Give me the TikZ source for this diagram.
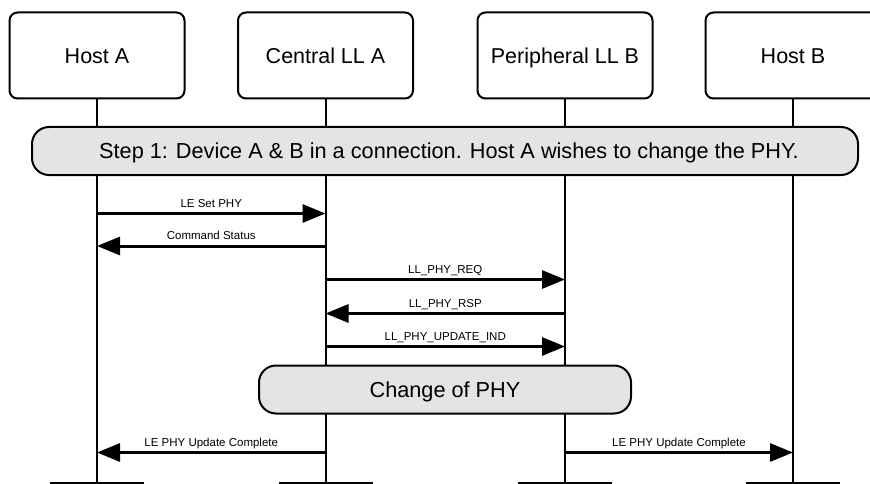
\documentclass[tikz,border=0pt]{standalone}
\usepackage{fontspec}
\setmainfont{Liberation Sans}
\usetikzlibrary{arrows.meta}
\definecolor{bandgray}{HTML}{E4E4E4}
\begin{document}
\begin{tikzpicture}[x=1pt,y=-1pt,
  actor/.style={draw, line width=2pt, rounded corners=8pt, fill=white,
    minimum width=175pt, minimum height=86pt, inner sep=0pt,
    text height=15.5pt, text depth=0pt,
    font=\fontsize{21.5}{24}\selectfont},
  actorend/.style={draw, line width=2pt, fill=white, anchor=north,
    minimum width=92pt, minimum height=60pt, inner sep=0pt},
  lifeline/.style={line width=2pt},
  band/.style={draw, line width=2pt, rounded corners=17pt, fill=bandgray,
    minimum height=48pt, inner sep=0pt, text height=15.6pt, text depth=0pt,
    font=\fontsize{21.7}{24}\selectfont},
  msg/.style={line width=3pt, -{Triangle[length=23pt,width=18pt]}},
  msglabel/.style={font=\fontsize{11.5}{13}\selectfont, inner sep=0pt,
    midway, anchor=base, yshift=6.5pt}
]
\useasboundingbox (0,0) rectangle (870,484);

% participants
\node[actor] (hostA) at (97,55.5)    {Host A};
\node[actor] (llA)   at (325.5,55.5) {Central LL A};
\node[actor] (llB)   at (565,55.5)   {Peripheral LL B};
\node[actor] (hostB) at (793,55.5)   {Host B};

% participant boxes at the foot of the chart
\node[actorend] (hostAend) at (97,482)    {};
\node[actorend] (llAend)   at (325.5,482) {};
\node[actorend] (llBend)   at (565,482)   {};
\node[actorend] (hostBend) at (793,482)   {};

% lifelines
\draw[lifeline] (hostA) -- (hostAend);
\draw[lifeline] (llA)   -- (llAend);
\draw[lifeline] (llB)   -- (llBend);
\draw[lifeline] (hostB) -- (hostBend);

% phase bands
\node[band, minimum width=826pt] (step1) at (445,151)
  {\hspace*{8pt}Step 1: Device A \& B in a connection. Host A wishes to change the PHY.};
\node[band, minimum width=372pt] (phychange) at (445,389.5) {Change of PHY};

% message anchor points on the lifelines
\coordinate (a1) at (97,213.5);    \coordinate (c1) at (325.5,213.5);
\coordinate (a2) at (97,246);      \coordinate (c2) at (325.5,246);
\coordinate (c3) at (325.5,279.5); \coordinate (p3) at (565,279.5);
\coordinate (c4) at (325.5,313.5); \coordinate (p4) at (565,313.5);
\coordinate (c5) at (325.5,346.5); \coordinate (p5) at (565,346.5);
\coordinate (a6) at (97,452.5);    \coordinate (c6) at (325.5,452.5);
\coordinate (p6) at (565,452.5);   \coordinate (b6) at (793,452.5);

% messages
\draw[msg] (a1) -- node[msglabel] {LE Set PHY} (c1);
\draw[msg] (c2) -- node[msglabel] {Command Status} (a2);
\draw[msg] (c3) -- node[msglabel] {LL\_PHY\_REQ} (p3);
\draw[msg] (p4) -- node[msglabel] {LL\_PHY\_RSP} (c4);
\draw[msg] (c5) -- node[msglabel] {LL\_PHY\_UPDATE\_IND} (p5);
\draw[msg] (c6) -- node[msglabel] {LE PHY Update Complete} (a6);
\draw[msg] (p6) -- node[msglabel] {LE PHY Update Complete} (b6);
\end{tikzpicture}
\end{document}
